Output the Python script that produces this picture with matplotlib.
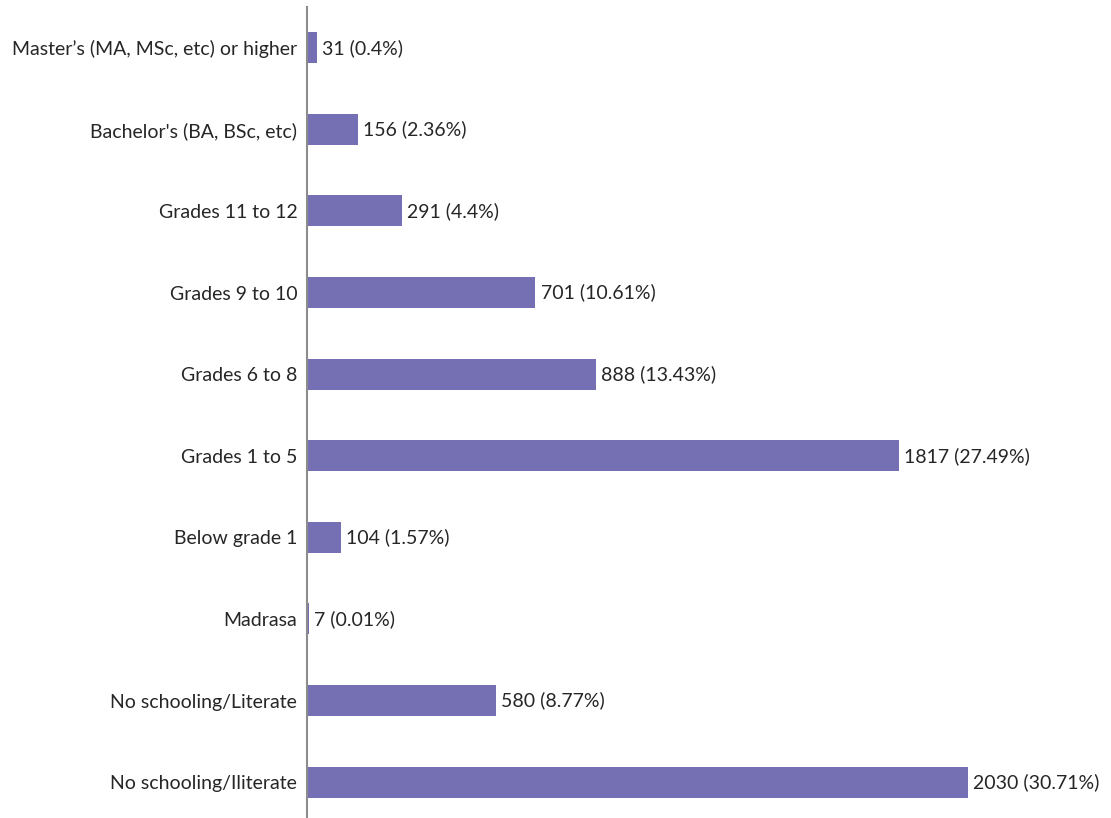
import matplotlib.pyplot as plt
import numpy as np

plt.rcParams['font.family'] = ['Lato', 'DejaVu Sans']

# Education levels, listed bottom to top
levels = [
    "No schooling/Iliterate",
    "No schooling/Literate",
    "Madrasa",
    "Below grade 1",
    "Grades 1 to 5",
    "Grades 6 to 8",
    "Grades 9 to 10",
    "Grades 11 to 12",
    "Bachelor's (BA, BSc, etc)",
    "Master\u2019s (MA, MSc, etc) or higher",
]
counts = [2030, 580, 7, 104, 1817, 888, 701, 291, 156, 31]
shares = [30.71, 8.77, 0.01, 1.57, 27.49, 13.43, 10.61, 4.4, 2.36, 0.4]

fig = plt.figure(figsize=(11.11, 8.18), dpi=100)
ax = fig.add_axes([307 / 1111, 0, (1100 - 307) / 1111, 811 / 818])

y = np.arange(len(levels))
ax.barh(y, counts, height=0.38, color='#7570b3')

for yi, c, s in zip(y, counts, shares):
    ax.text(c + 16, yi, f"{c} ({s:g}%)", va='center', ha='left',
            fontsize=14, color='#262626')

ax.set_yticks(y)
ax.set_yticklabels(levels, fontsize=14, color='#262626')
ax.tick_params(axis='y', length=0, pad=7)
ax.set_xticks([])
ax.set_xlim(0, 2435)
ax.set_ylim(-0.44, 9.50)

for side in ['top', 'right', 'bottom']:
    ax.spines[side].set_visible(False)
ax.spines['left'].set_color('#8c8c8c')
ax.spines['left'].set_linewidth(1.5)

fig.savefig('out.png', dpi=100)
